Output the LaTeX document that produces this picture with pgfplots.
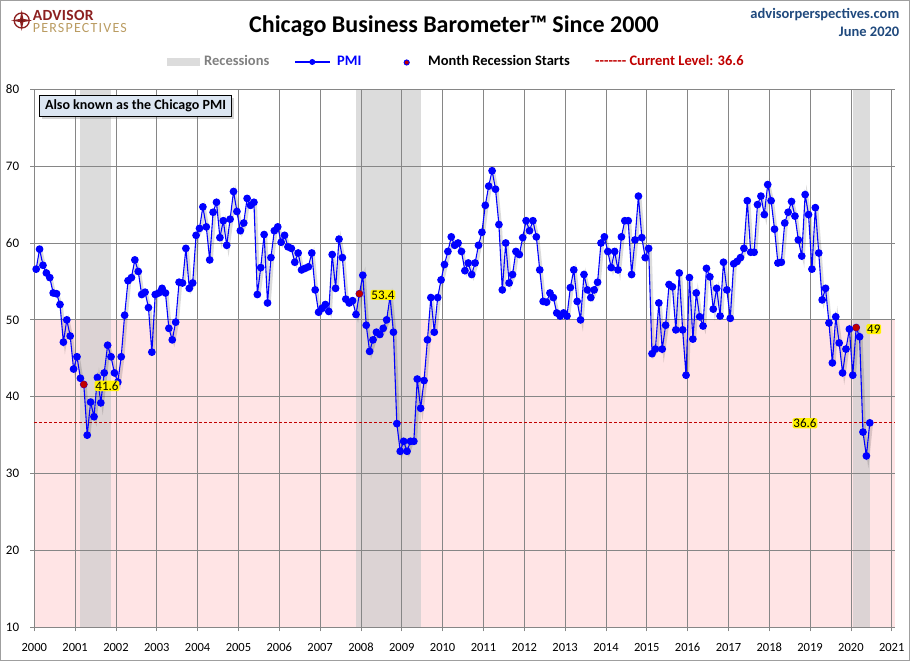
\documentclass[border=0pt]{standalone}
\usepackage{fontspec}
\setmainfont{Carlito}
\usepackage{pgfplots}
\pgfplotsset{compat=1.18}
\usepackage{pgfplotstable}
\usetikzlibrary{shadows}

\definecolor{pmiblue}{RGB}{0,0,255}
\definecolor{recgray}{RGB}{220,220,220}
\definecolor{recgraypink}{RGB}{220,211,212}
\definecolor{pinkfill}{RGB}{255,228,229}
\definecolor{gridgray}{RGB}{134,134,134}
\definecolor{darkred}{RGB}{192,0,0}
\definecolor{navy}{RGB}{31,73,125}
\definecolor{maroon}{RGB}{140,32,32}
\definecolor{gold}{RGB}{186,156,98}
\definecolor{leggray}{RGB}{128,128,128}
\definecolor{boxblue}{RGB}{220,230,242}

% Monthly PMI, Jan 2000 - Jun 2020 (one year per line)
\pgfplotstableread[row sep=\\]{
pmi\\
56.6\\ 59.2\\ 57.1\\ 56.1\\ 55.5\\ 53.5\\ 53.4\\ 52.0\\ 47.1\\ 50.0\\ 47.9\\ 43.6\\
45.2\\ 42.4\\ 41.6\\ 35.0\\ 39.3\\ 37.4\\ 42.5\\ 39.2\\ 43.1\\ 46.7\\ 45.2\\ 43.1\\
41.9\\ 45.2\\ 50.6\\ 55.1\\ 55.5\\ 57.8\\ 56.3\\ 53.3\\ 53.6\\ 51.6\\ 45.8\\ 53.3\\
53.5\\ 54.1\\ 53.5\\ 48.9\\ 47.4\\ 49.7\\ 54.9\\ 54.8\\ 59.3\\ 54.1\\ 54.8\\ 61.0\\
61.9\\ 64.7\\ 62.1\\ 57.8\\ 64.0\\ 65.3\\ 60.7\\ 62.9\\ 59.7\\ 63.1\\ 66.7\\ 64.1\\
61.6\\ 62.6\\ 65.8\\ 64.9\\ 65.3\\ 53.3\\ 56.8\\ 61.1\\ 52.2\\ 58.1\\ 61.6\\ 62.1\\
60.1\\ 61.0\\ 59.5\\ 59.3\\ 57.5\\ 58.7\\ 56.5\\ 56.7\\ 56.9\\ 58.7\\ 53.9\\ 51.0\\
51.5\\ 52.0\\ 51.1\\ 58.5\\ 54.1\\ 60.5\\ 58.1\\ 52.7\\ 52.2\\ 52.5\\ 50.7\\ 53.4\\
55.8\\ 49.3\\ 45.9\\ 47.4\\ 48.4\\ 48.1\\ 48.9\\ 50.0\\ 53.0\\ 48.4\\ 36.5\\ 32.9\\
34.2\\ 32.9\\ 34.2\\ 34.2\\ 42.3\\ 38.5\\ 42.1\\ 47.4\\ 52.9\\ 48.4\\ 52.9\\ 55.2\\
57.2\\ 58.9\\ 60.8\\ 59.7\\ 60.0\\ 58.9\\ 56.4\\ 57.4\\ 55.9\\ 57.4\\ 59.7\\ 61.4\\
64.9\\ 67.4\\ 69.4\\ 67.0\\ 62.4\\ 53.9\\ 60.0\\ 54.8\\ 55.9\\ 58.9\\ 58.5\\ 60.7\\
62.9\\ 61.6\\ 62.9\\ 60.8\\ 56.5\\ 52.4\\ 52.3\\ 53.5\\ 52.9\\ 50.9\\ 50.5\\ 50.9\\
50.5\\ 54.2\\ 56.5\\ 52.4\\ 50.0\\ 55.9\\ 53.9\\ 52.9\\ 53.9\\ 54.9\\ 60.0\\ 60.8\\
58.9\\ 56.8\\ 58.9\\ 56.5\\ 60.8\\ 62.9\\ 62.9\\ 55.9\\ 60.4\\ 66.1\\ 60.7\\ 58.1\\
59.3\\ 45.6\\ 46.2\\ 52.2\\ 46.2\\ 49.3\\ 54.6\\ 54.3\\ 48.7\\ 56.1\\ 48.7\\ 42.8\\
55.5\\ 47.5\\ 53.5\\ 50.4\\ 49.2\\ 56.7\\ 55.6\\ 51.4\\ 54.1\\ 50.5\\ 57.5\\ 53.9\\
50.2\\ 57.3\\ 57.6\\ 58.1\\ 59.3\\ 65.5\\ 58.8\\ 58.8\\ 65.0\\ 66.1\\ 63.7\\ 67.6\\
65.5\\ 61.8\\ 57.4\\ 57.5\\ 62.6\\ 64.0\\ 65.4\\ 63.5\\ 60.4\\ 58.3\\ 66.3\\ 63.7\\
56.6\\ 64.6\\ 58.7\\ 52.6\\ 54.1\\ 49.6\\ 44.4\\ 50.4\\ 47.0\\ 43.1\\ 46.2\\ 48.8\\
42.8\\ 49.0\\ 47.8\\ 35.4\\ 32.3\\ 36.6\\
}\pmidata

% Months in which recessions start
\pgfplotstableread[row sep=\\]{
date pmi\\
2001.2125 41.6\\
2007.9625 53.4\\
2020.1292 49.0\\
}\recstart

\tikzset{lab/.style={fill=yellow, inner sep=0.8pt, rounded corners=1.5pt, text=black,
  font=\fontsize{13}{13}\selectfont}}

\begin{document}
\begin{tikzpicture}
% outer frame (also fixes the picture size 910 x 661)
\draw[draw=gray!75, line width=1pt] (0.5pt,0.5pt) rectangle (909.5pt,660.5pt);
\begin{axis}[
  at={(34.3pt,33.7pt)}, anchor=south west,
  scale only axis, width=860.7pt, height=538pt,
  xmin=2000, xmax=2021.08, ymin=10, ymax=80,
  xtick={2000,2001,...,2021}, ytick={10,20,...,80},
  grid=major, grid style={draw=gridgray, line width=0.8pt},
  axis x line*=bottom, axis y line*=left,
  axis line style={draw=gridgray, line width=0.8pt, -},
  tick style={draw=gridgray, line width=0.8pt},
  tick align=outside, major tick length=4pt,
  xticklabel style={font=\fontsize{12.5}{12.5}\selectfont, anchor=base, inner sep=0pt, yshift=-20pt},
  yticklabel style={font=\fontsize{13}{13}\selectfont, anchor=east, inner sep=0pt, xshift=-11pt},
  /pgf/number format/assume math mode=true,
  /pgf/number format/1000 sep={},
  set layers, clip=false,
]
% pink zone below 50
\addplot[forget plot, fill=pinkfill, draw=none, on layer=axis background]
  coordinates {(2000,10) (2021.08,10) (2021.08,50) (2000,50)};
% recession bands
\addplot[forget plot, fill=recgray, draw=none, on layer=axis background]
  coordinates {(2001.12,50) (2001.87,50) (2001.87,80) (2001.12,80)};
\addplot[forget plot, fill=recgraypink, draw=none, on layer=axis background]
  coordinates {(2001.12,10) (2001.87,10) (2001.87,50) (2001.12,50)};
\addplot[forget plot, fill=recgray, draw=none, on layer=axis background]
  coordinates {(2007.88,50) (2009.46,50) (2009.46,80) (2007.88,80)};
\addplot[forget plot, fill=recgraypink, draw=none, on layer=axis background]
  coordinates {(2007.88,10) (2009.46,10) (2009.46,50) (2007.88,50)};
\addplot[forget plot, fill=recgray, draw=none, on layer=axis background]
  coordinates {(2020.04,50) (2020.47,50) (2020.47,80) (2020.04,80)};
\addplot[forget plot, fill=recgraypink, draw=none, on layer=axis background]
  coordinates {(2020.04,10) (2020.47,10) (2020.47,50) (2020.04,50)};
% current level line
\addplot[forget plot, draw=darkred, line width=0.9pt, dash pattern=on 3pt off 2pt]
  coordinates {(2000,36.6) (2021.08,36.6)};
% shadow of the PMI line
\addplot[forget plot, draw=black, opacity=0.14, line width=2.6pt, xshift=1.8pt, yshift=-1.8pt]
  table[x expr=2000+(\coordindex+0.55)/12, y=pmi] {\pmidata};
% PMI
\addplot[forget plot, draw=pmiblue, line width=1.1pt, mark=*, mark size=3.3pt,
  mark options={fill=pmiblue, draw=pmiblue, solid}]
  table[x expr=2000+(\coordindex+0.55)/12, y=pmi] {\pmidata};
% recession start months
\addplot[forget plot, only marks, mark=*, mark size=3.3pt,
  mark options={fill=darkred, draw=darkred}]
  table[x=date, y=pmi] {\recstart};
% anchors for the data labels
\coordinate (L1) at (axis cs:2001.78,41.4);
\coordinate (L2) at (axis cs:2008.54,53.25);
\coordinate (L3) at (axis cs:2020.56,48.8);
\coordinate (L4) at (axis cs:2018.876,36.55);
\end{axis}

% data labels (on top of the line)
\node[lab] at (L1) {41.6};
\node[lab] at (L2) {53.4};
\node[lab] at (L3) {49};
\node[lab] at (L4) {36.6};

% title
\node[anchor=base, inner sep=0pt, font=\bfseries\fontsize{24}{24}\selectfont] at (454pt,628.5pt)
  {Chicago Business Barometer™ Since 2000};

% top right
\node[anchor=base east, inner sep=0pt, text=navy, font=\bfseries\fontsize{14.5}{14.5}\selectfont]
  at (899.5pt,642.3pt) {advisorperspectives.com};
\node[anchor=base east, inner sep=0pt, text=navy, font=\bfseries\fontsize{14.5}{14.5}\selectfont]
  at (899.5pt,624.7pt) {June 2020};

% logo
\draw[maroon, line width=1.3pt] (21.7pt,640.5pt) circle (7.5pt);
\fill[maroon] (21.7pt,651pt) -- (23.3pt,642.1pt) -- (32.2pt,640.5pt) -- (23.3pt,638.9pt)
  -- (21.7pt,630pt) -- (20.1pt,638.9pt) -- (11.2pt,640.5pt) -- (20.1pt,642.1pt) -- cycle;
\fill[maroon!80!black] (21.7pt,640.5pt) circle (1.6pt);
\node[anchor=base west, inner sep=0pt, text=maroon,
  font=\bfseries\fontsize{15.5}{15.5}\selectfont\addfontfeature{LetterSpace=2}]
  at (32.7pt,640.3pt) {ADVISOR};
\node[anchor=base west, inner sep=0pt, text=gold,
  font=\fontsize{14}{14}\selectfont\addfontfeature{LetterSpace=8.6}]
  at (32.7pt,628.8pt) {PERSPECTIVES};

% legend
\fill[recgray] (166.7pt,595.3pt) rectangle (200pt,603.3pt);
\node[anchor=base west, inner sep=0pt, text=leggray, font=\bfseries\fontsize{14.5}{14.5}\selectfont]
  at (204pt,595pt) {Recessions};
\draw[pmiblue, line width=1.1pt] (295pt,599pt) -- (330pt,599pt);
\fill[pmiblue] (312.3pt,599pt) circle (3pt);
\node[anchor=base west, inner sep=0pt, text=pmiblue, font=\bfseries\fontsize{14.5}{14.5}\selectfont]
  at (337pt,595pt) {PMI};
\filldraw[fill=darkred, draw=pmiblue, line width=0.9pt] (406.7pt,598.5pt) circle (2.6pt);
\node[anchor=base west, inner sep=0pt, text=black, font=\bfseries\fontsize{14.5}{14.5}\selectfont]
  at (428pt,595pt) {Month Recession Starts};
\node[anchor=base west, inner sep=0pt, text=darkred, font=\bfseries\fontsize{14.5}{14.5}\selectfont]
  at (595pt,595pt) {-{}-{}-{}-{}-{}-{}- Current Level: 36.6};

% note box
\node[draw=black, fill=boxblue, line width=0.8pt, minimum width=192.4pt, minimum height=20.6pt,
  inner sep=0pt, font=\bfseries\fontsize{14}{14}\selectfont,
  drop shadow={shadow xshift=2.5pt, shadow yshift=-2.5pt, opacity=0.35}]
  at (135.5pt,555pt) {Also known as the Chicago PMI};
\end{tikzpicture}
\end{document}
